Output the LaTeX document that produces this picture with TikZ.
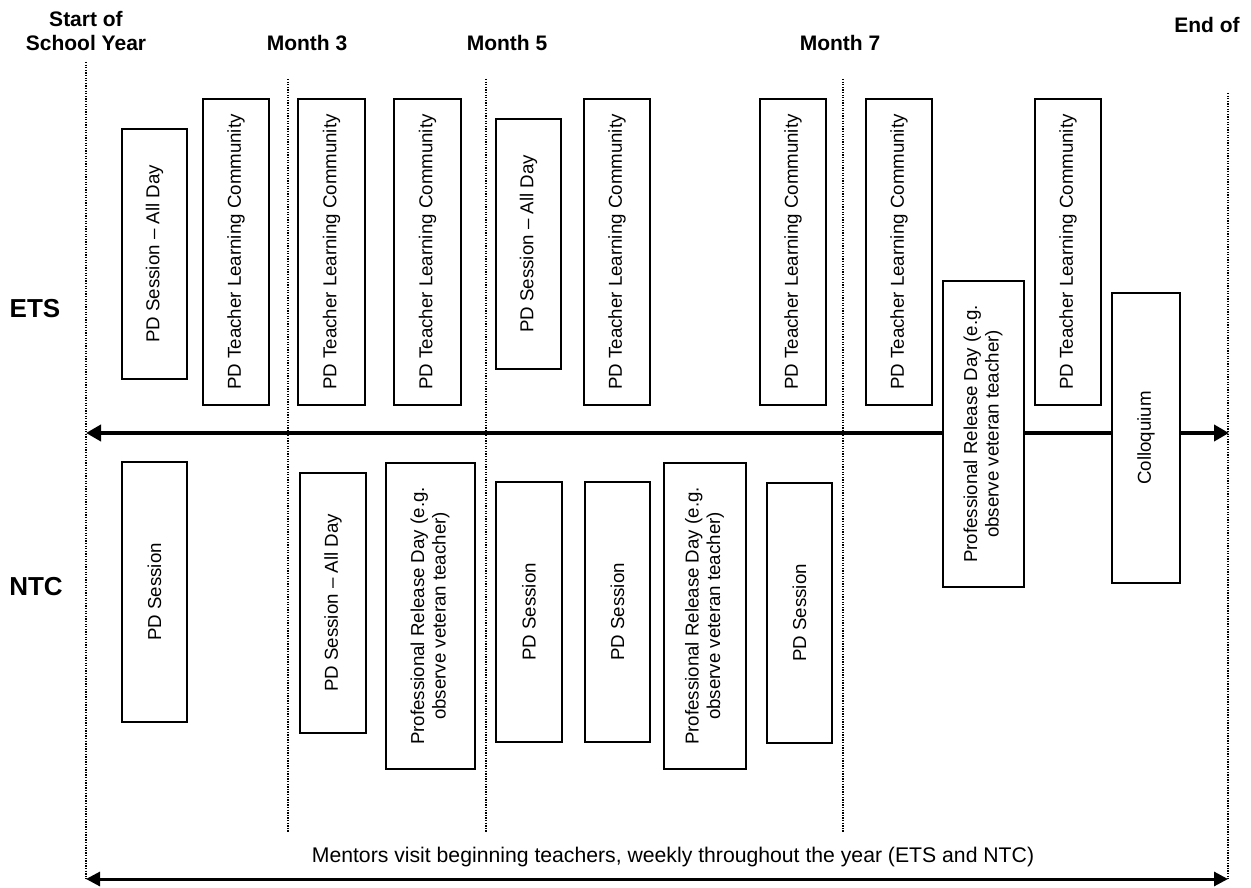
\documentclass[tikz,border=0pt]{standalone}
\usepackage{fontspec}
\setmainfont{Liberation Sans}
\usetikzlibrary{arrows.meta}
\begin{document}
\begin{tikzpicture}[x=1pt,y=-1pt,
  box/.style={draw, line width=1.6pt, fill=white, inner sep=0pt, font=\fontsize{18.7}{21.5}\selectfont},
  lab/.style={font=\bfseries\fontsize{21}{24}\selectfont, align=center, inner sep=0pt},
  grp/.style={font=\bfseries\fontsize{26}{30}\selectfont, inner sep=0pt},
  vline/.style={line width=1.3pt, dash pattern=on 1.3pt off 1.3pt},
  mainarrow/.style={line width=4.5pt, {Triangle[length=15pt,width=16pt]}-{Triangle[length=15pt,width=16pt]}},
  botarrow/.style={line width=3pt, {Triangle[length=14pt,width=14pt]}-{Triangle[length=14pt,width=14pt]}},
  note/.style={font=\fontsize{21.2}{25}\selectfont, inner sep=0pt}]
\useasboundingbox (0,0) rectangle (1251,888);

% dotted time lines
\coordinate (s0t) at (86,62);   \coordinate (s0b) at (86,879);
\coordinate (m3t) at (288,79);  \coordinate (m3b) at (288,832);
\coordinate (m5t) at (486,79);  \coordinate (m5b) at (486,832);
\coordinate (m7t) at (843,79);  \coordinate (m7b) at (843,832);
\coordinate (ent) at (1228,93); \coordinate (enb) at (1228,879);
\draw[vline] (s0t) -- (s0b);
\draw[vline] (m3t) -- (m3b);
\draw[vline] (m5t) -- (m5b);
\draw[vline] (m7t) -- (m7b);
\draw[vline] (ent) -- (enb);

% main time axis
\coordinate (al) at (86,433);
\coordinate (ar) at (1229,433);
\draw[mainarrow] (al) -- (ar);

% bottom arrow
\coordinate (bl) at (86,879);
\coordinate (br) at (1228,879);
\draw[botarrow] (bl) -- (br);
\node[note] (mentor) at (673,857) {Mentors visit beginning teachers, weekly throughout the year (ETS and NTC)};

% headings
\node[lab] (start) at (86,31) {Start of\\School Year};
\node[lab] (mon3) at (307,43) {Month 3};
\node[lab] (mon5) at (507,43) {Month 5};
\node[lab] (mon7) at (840,43) {Month 7};
\node[lab] (endy) at (1207,25) {End of};
\node[grp] (ets) at (35,309) {ETS};
\node[grp] (ntc) at (36,587) {NTC};

% ETS boxes
\node[box, minimum width=65pt, minimum height=250pt] (e1) at (154.5,254) {\rotatebox{90}{PD Session – All Day}};
\node[box, minimum width=66pt, minimum height=306pt] (e2) at (236,252) {\rotatebox{90}{PD Teacher Learning Community}};
\node[box, minimum width=67pt, minimum height=306pt] (e3) at (331.5,252) {\rotatebox{90}{PD Teacher Learning Community}};
\node[box, minimum width=67pt, minimum height=306pt] (e4) at (427.5,252) {\rotatebox{90}{PD Teacher Learning Community}};
\node[box, minimum width=65pt, minimum height=250pt] (e5) at (528.5,244) {\rotatebox{90}{PD Session – All Day}};
\node[box, minimum width=66pt, minimum height=306pt] (e6) at (617,252) {\rotatebox{90}{PD Teacher Learning Community}};
\node[box, minimum width=66pt, minimum height=306pt] (e7) at (793,252) {\rotatebox{90}{PD Teacher Learning Community}};
\node[box, minimum width=66pt, minimum height=306pt] (e8) at (899,252) {\rotatebox{90}{PD Teacher Learning Community}};
\node[box, minimum width=81pt, minimum height=306pt] (e9) at (983.5,434) {\rotatebox{90}{\begin{tabular}{@{}c@{}}Professional Release Day (e.g.\\observe veteran teacher)\end{tabular}}};
\node[box, minimum width=66pt, minimum height=306pt] (e10) at (1068,252) {\rotatebox{90}{PD Teacher Learning Community}};
\node[box, minimum width=68pt, minimum height=290pt] (e11) at (1146,438) {\rotatebox{90}{Colloquium}};

% NTC boxes
\node[box, minimum width=65pt, minimum height=260pt] (n1) at (154.5,592) {\rotatebox{90}{PD Session}};
\node[box, minimum width=66pt, minimum height=260pt] (n2) at (333,603) {\rotatebox{90}{PD Session – All Day}};
\node[box, minimum width=89pt, minimum height=306pt] (n3) at (430.5,616) {\rotatebox{90}{\begin{tabular}{@{}c@{}}Professional Release Day (e.g.\\observe veteran teacher)\end{tabular}}};
\node[box, minimum width=66pt, minimum height=260pt] (n4) at (529,612) {\rotatebox{90}{PD Session}};
\node[box, minimum width=65pt, minimum height=260pt] (n5) at (617.5,612) {\rotatebox{90}{PD Session}};
\node[box, minimum width=82pt, minimum height=306pt] (n6) at (705,616) {\rotatebox{90}{\begin{tabular}{@{}c@{}}Professional Release Day (e.g.\\observe veteran teacher)\end{tabular}}};
\node[box, minimum width=65pt, minimum height=260pt] (n7) at (799.5,613) {\rotatebox{90}{PD Session}};
\end{tikzpicture}
\end{document}
